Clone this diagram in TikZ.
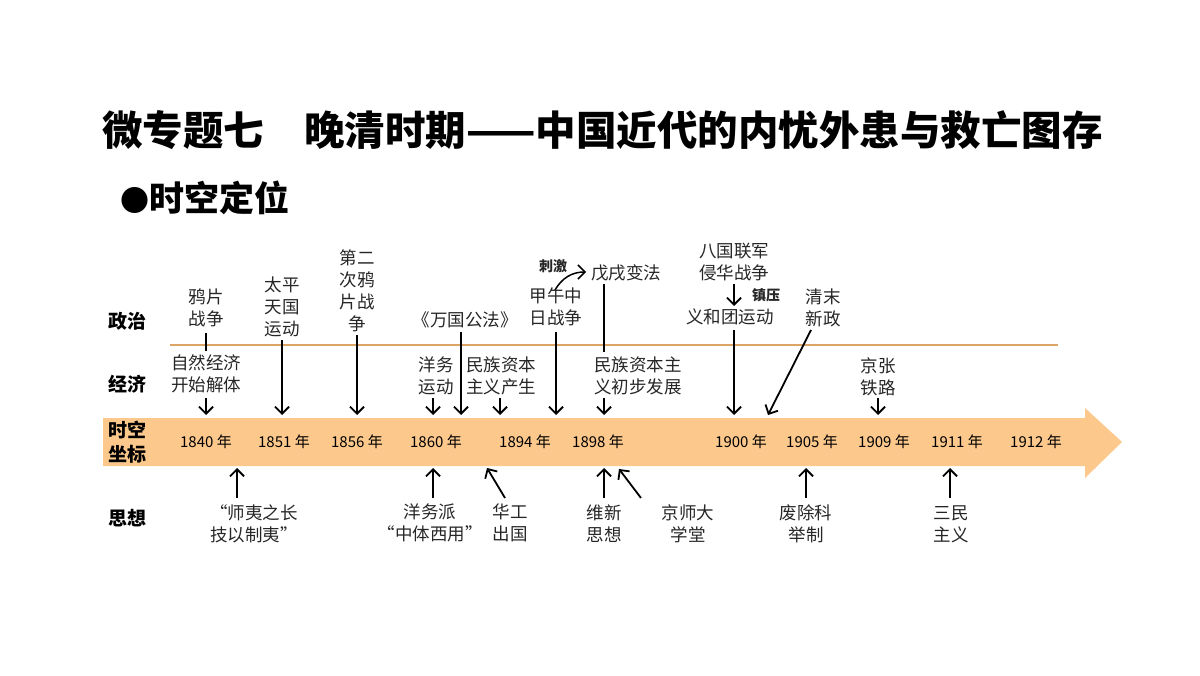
\documentclass[tikz,border=0pt]{standalone}
\usepackage{fontspec}
\setmainfont{Noto Sans CJK SC}
\usetikzlibrary{arrows.meta}
\definecolor{band}{HTML}{FCC88C}
\definecolor{rule}{HTML}{DDA468}
\tikzset{
 lab/.style={font=\fontsize{17.5}{22}\selectfont, align=center, inner sep=0pt, text=black!85},
 row/.style={font=\fontsize{19}{23}\selectfont\bfseries, align=center, inner sep=0pt},
 yr/.style={font=\fontsize{15}{16}\selectfont, inner sep=0pt},
 arr/.style={-{Straight Barb[length=7pt,width=14pt]}, line width=1.8pt},
 pl/.style={line width=1.8pt},
}
\begin{document}
\begin{tikzpicture}[x=1pt,y=-1pt]
\useasboundingbox (0,0) rectangle (1200,676);
\node[font=\fontsize{40.5}{44}\selectfont\bfseries, anchor=west, inner sep=0pt] (title) at (102,130) {微专题七\hspace{40pt}晚清时期——中国近代的内忧外患与救亡图存};
\node[font=\fontsize{35}{38}\selectfont\bfseries, anchor=west, inner sep=0pt] (sub) at (120,198) {{\fontsize{29}{30}\selectfont●}时空定位};
% band
\fill[band] (103,418) -- (1085,418) -- (1085,408) -- (1122,442) -- (1085,478) -- (1085,466) -- (103,466) -- cycle;
\draw[rule, line width=1.5pt] (170,345) -- (1058,345);
% rows
\node[row] (zz) at (127,321) {政治};
\node[row] (jj) at (127,384) {经济};
\node[row, font=\fontsize{19}{24}\selectfont\bfseries] (sk) at (127,442) {时空\\坐标};
\node[row] (sx) at (127,518) {思想};
% years
\foreach \y/\x in {1840/206,1851/284,1856/357,1860/436,1894/525,1898/598,1900/741,1905/812,1909/884,1911/957,1912/1036}
  \node[yr] (y\y) at (\x,442) {\y\ 年};
% top coordinates
\foreach \n/\x in {a/206,b/282,c/357,d/433,e/461,f/500,g/556,h/604,i/734,j/768,k/878}
  \coordinate (t\n) at (\x,415);
\foreach \n/\x in {a/237,d/433,e/487,h/604,i/608,j/806,k/950}
  \coordinate (u\n) at (\x,468);
% politics
\node[lab] (yp) at (206,308) {鸦片\\战争};
\node[lab] (tp) at (282,307) {太平\\天国\\运动};
\node[lab] (de) at (357,291) {第二\\次鸦\\片战\\争};
\node[lab] (wg) at (465,320) {《万国公法》};
\node[lab] (jw) at (556,307) {甲午中\\日战争};
\node[lab, font=\fontsize{14}{16}\selectfont\bfseries] (cj) at (553,266) {刺激};
\node[lab] (wx) at (626,273) {戊戌变法};
\node[lab] (bg) at (734,262) {八国联军\\侵华战争};
\node[lab, font=\fontsize{14}{16}\selectfont\bfseries] (zy) at (766,295) {镇压};
\node[lab] (yh) at (730,317) {义和团运动};
\node[lab] (qm) at (823,308) {清末\\新政};
% economy
\node[lab] (zr) at (206,374) {自然经济\\开始解体};
\node[lab] (ywy) at (436,376) {洋务\\运动};
\node[lab] (mz) at (501,376) {民族资本\\主义产生};
\node[lab] (mzc) at (638,376) {民族资本主\\义初步发展};
\node[lab] (jz) at (878,377) {京张\\铁路};
% thought
\node[lab] (sy) at (254,524) {“师夷之长\\技以制夷”};
\node[lab] (ywp) at (430,523) {洋务派\\“中体西用”};
\node[lab] (hg) at (510,523) {华工\\出国};
\node[lab] (wxs) at (604,524) {维新\\思想};
\node[lab] (jsd) at (688,524) {京师大\\学堂};
\node[lab] (fc) at (806,524) {废除科\\举制};
\node[lab] (sm) at (951,524) {三民\\主义};
% arrows top
\coordinate (p1) at (206,333); \coordinate (p2) at (206,351);
\draw[pl] (p1) -- (p2);
\draw[arr] (206,398) -- (ta);
\draw[arr] (282,340) -- (tb);
\draw[arr] (357,335) -- (tc);
\draw[arr] (433,398) -- (td);
\draw[arr] (461,332) -- (te);
\draw[arr] (500,398) -- (tf);
\draw[arr] (556,332) -- (tg);
\draw[pl] (604,284) -- (604,352);
\draw[arr] (604,398) -- (th);
\draw[arr, line width=1.5pt] (555,290) .. controls (562,278) and (572,272) .. (586,272);
\draw[arr] (734,284) -- (734,306);
\draw[arr] (734,330) -- (ti);
\draw[arr] (811,330) -- (tj);
\draw[arr] (878,398) -- (tk);
% arrows bottom
\draw[arr] (237,498) -- (ua);
\draw[arr] (433,498) -- (ud);
\draw[arr] (505,498) -- (ue);
\draw[arr] (604,498) -- (uh);
\draw[arr] (641,498) -- (619,469);
\draw[arr] (806,498) -- (uj);
\draw[arr] (950,498) -- (uk);
\end{tikzpicture}
\end{document}
